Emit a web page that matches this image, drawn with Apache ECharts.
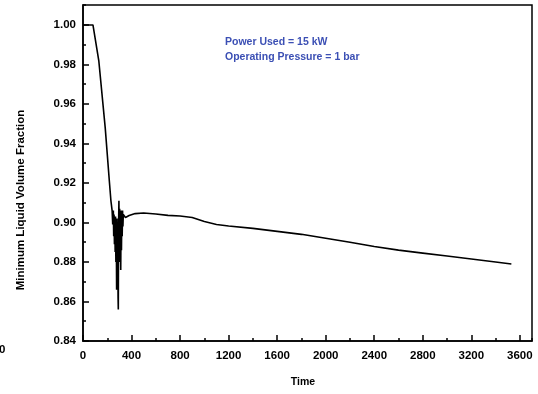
<!DOCTYPE html>
<html>
<head>
<meta charset="utf-8">
<script src="https://cdn.jsdelivr.net/npm/echarts@6/dist/echarts.min.js"></script>
<style>
    html, body { margin: 0; padding: 0; background: #fff; }
    #chart { width: 538px; height: 394px; }
</style>
</head>
<body>
<div id="chart"></div>
<script>
// 시간 (x) 과 최소 액체 부피 분율 (y)
let timeList = [0, 82, 130, 183, 217, 230, 240, 245,
    250, 253, 256, 259, 262, 265, 268, 271, 274, 277, 280, 283, 286, 289, 291, 293, 296, 299, 302, 305, 308, 311, 314, 317, 320, 323, 326, 329, 332, 336,
    350, 380, 430, 500, 600, 700, 800, 900, 1000, 1100, 1200, 1400, 1600, 1800, 2000, 2200, 2400, 2600, 2800, 3000, 3200, 3400, 3530];
let fractionList = [1.0, 1.0, 0.982, 0.948, 0.921, 0.911, 0.906, 0.899,
    0.906, 0.893, 0.904, 0.889, 0.902, 0.885, 0.903, 0.880, 0.900, 0.866, 0.902, 0.872, 0.898, 0.862, 0.856, 0.898, 0.911, 0.886, 0.907, 0.880, 0.905, 0.876, 0.906, 0.886, 0.905, 0.893, 0.906, 0.898, 0.904, 0.903,
    0.9025, 0.9035, 0.9045, 0.9048, 0.9043, 0.9036, 0.9033, 0.9025, 0.9005, 0.8990, 0.8982, 0.8970, 0.8955, 0.8940, 0.8920, 0.8900, 0.8878, 0.8860, 0.8845, 0.8830, 0.8815, 0.8800, 0.8790];

let noteLines = ['Power Used = 15 kW', 'Operating Pressure = 1 bar'];

var chart = echarts.init(document.getElementById('chart'));

let labelFont = { color: '#000', fontSize: 11.5, fontWeight: 'bold', fontFamily: 'Liberation Sans, Arial, sans-serif' };

option = {
    animation: false,
    backgroundColor: '#fff',
    grid: {
        left: 83, top: 5, right: 6, bottom: 53,
        show: true,
        borderColor: '#000',
        borderWidth: 1.5
    },
    xAxis: [
        {
            type: 'value', min: 0, max: 3700, interval: 400,
            position: 'bottom',
            axisLine: { show: true, lineStyle: { color: '#000', width: 1.5 } },
            axisTick: { show: true, inside: true, length: 6, lineStyle: { color: '#000', width: 1.5 } },
            axisLabel: Object.assign({
                margin: 9, showMaxLabel: false,
                formatter: function (v) { return String(v); }
            }, labelFont),
            splitLine: { show: false }
        },
        {
            // 보조 눈금 (200 간격)
            type: 'value', min: 0, max: 3700, interval: 200,
            position: 'bottom',
            axisLine: { show: false },
            axisTick: { show: true, inside: true, length: 3, lineStyle: { color: '#000', width: 1.5 } },
            axisLabel: { show: false },
            splitLine: { show: false }
        }
    ],
    yAxis: [
        {
            type: 'value', min: 0.84, max: 1.0101, interval: 0.02,
            position: 'left',
            axisLine: { show: true, lineStyle: { color: '#000', width: 1.5 } },
            axisTick: { show: true, inside: true, length: 6, lineStyle: { color: '#000', width: 1.5 } },
            axisLabel: Object.assign({
                margin: 7, showMaxLabel: false,
                formatter: function (v) { return v.toFixed(2); }
            }, labelFont),
            splitLine: { show: false }
        },
        {
            type: 'value', min: 0.84, max: 1.0101, interval: 0.01,
            position: 'left',
            axisLine: { show: false },
            axisTick: { show: true, inside: true, length: 3, lineStyle: { color: '#000', width: 1.5 } },
            axisLabel: { show: false },
            splitLine: { show: false }
        }
    ],
    graphic: [
        {
            type: 'text', left: 225, top: 35,
            style: { text: noteLines.join('\n'), fill: '#3b4fb4', font: 'bold 10.5px Liberation Sans, Arial, sans-serif', lineHeight: 15 }
        },
        {
            type: 'text', x: 303, y: 382,
            style: { text: 'Time', fill: '#000', font: 'bold 10.5px Liberation Sans, Arial, sans-serif', align: 'center', verticalAlign: 'middle' }
        },
        {
            type: 'text', x: 21, y: 200, rotation: Math.PI / 2,
            style: { text: 'Minimum Liquid Volume Fraction', fill: '#000', font: 'bold 11.5px Liberation Sans, Arial, sans-serif', align: 'center', verticalAlign: 'middle' }
        },
        {
            type: 'text', x: -1, y: 350,
            style: { text: '0', fill: '#000', font: 'bold 11.5px Liberation Sans, Arial, sans-serif', verticalAlign: 'middle' }
        }
    ],
    series: [
        {
            type: 'line',
            xAxisIndex: 0,
            yAxisIndex: 0,
            showSymbol: false,
            symbol: 'none',
            lineStyle: { color: '#000', width: 1.6 },
            data: timeList.map(function (t, i) { return [t, fractionList[i]]; })
        }
    ]
};

chart.setOption(option);
</script>
</body>
</html>
